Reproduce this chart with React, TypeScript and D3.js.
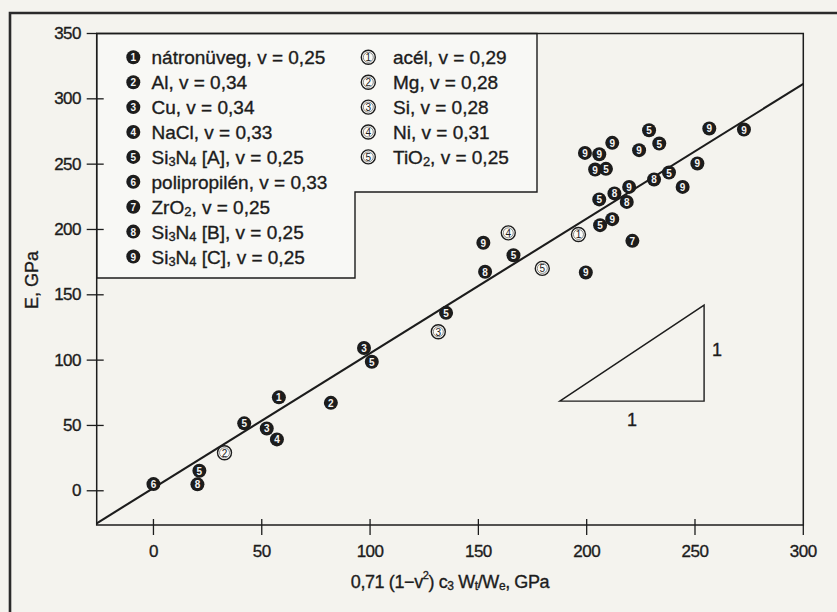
import * as d3 from 'd3';

// legend entries (filled markers 1-9, open markers 1-5)
const filledNames = ['nátronüveg', 'Al', 'Cu', 'NaCl', 'Si_3N_4 [A]', 'polipropilén', 'ZrO_2', 'Si_3N_4 [B]', 'Si_3N_4 [C]'];
const filledNu = ['0,25', '0,34', '0,34', '0,33', '0,25', '0,33', '0,25', '0,25', '0,25'];
const openNames = ['acél', 'Mg', 'Si', 'Ni', 'TiO_2'];
const openNu = ['0,29', '0,28', '0,28', '0,31', '0,25'];

// filled points: series number, x, y
const filledSeries = [1, 2, 3, 3, 4, 5, 5, 5, 5, 5, 5, 5, 5, 5, 5, 5, 6, 7, 8, 8, 8, 8, 8, 9, 9, 9, 9, 9, 9, 9, 9, 9, 9, 9, 9, 9];
const filledX = [57.9, 81.9, 52.3, 97.2, 57, 21.2, 41.9, 100.8, 135.1, 166.2, 206.2, 205.8, 238, 208.9, 233.5, 228.8, 0, 221.1, 20.3, 153.1, 218.5, 231.1, 212.8, 152.3, 199.6, 211.8, 219.6, 244.3, 251.1, 203.9, 199.2, 205.8, 224.2, 211.8, 256.6, 272.6];
const filledY = [71.5, 67.3, 47.7, 109.3, 39.3, 15.3, 51.6, 98.7, 136.2, 180.3, 203.3, 223, 243.6, 246.4, 265.8, 276, 5.1, 191.3, 4.9, 167.6, 221.1, 238.3, 227.6, 189.8, 167.1, 207.9, 232.6, 232.6, 250.5, 245.9, 258.6, 257.6, 260.7, 266.3, 277.3, 276.5];

// open points
const openSeries = [1, 2, 3, 4, 5];
const openX = [196.2, 32.8, 131.5, 163.8, 179.5];
const openY = [196.2, 29.1, 121.7, 197.4, 170.2];

// fitted line and slope triangle (data units)
const fitLine: [number, number][] = [[-26.2, -24.9], [300, 311.4]];
const slopeTriangle: [number, number][] = [[187.6, 68.6], [254.2, 68.6], [254.2, 142.1]];

const xTicks = [0, 50, 100, 150, 200, 250, 300];
const yTicks = [0, 50, 100, 150, 200, 250, 300, 350];

const FONT = '"Liberation Sans", Arial, Helvetica, sans-serif';
const INK = '#1c1c1c';
const TXT = { fontFamily: FONT, fill: INK, stroke: INK, strokeWidth: 0.35 };

function Label({ text, x, y, size }: { text: string; x: number; y: number; size: number }) {
  // "_3" -> subscript 3
  const parts = text.split(/(_\d)/).filter((p) => p.length);
  return (
    <text x={x} y={y} fontSize={size} dominantBaseline="central" {...TXT}>
      {parts.map((p, i) =>
        p.startsWith('_') ? (
          <tspan key={i} fontSize={size * 0.68} dy={size * 0.22}>{p.slice(1)}</tspan>
        ) : (
          <tspan key={i} dy={i > 0 && parts[i - 1].startsWith('_') ? -size * 0.22 : 0}>{p}</tspan>
        )
      )}
    </text>
  );
}

function Filled({ x, y, n, r = 7 }: { x: number; y: number; n: number; r?: number }) {
  return (
    <g>
      <circle cx={x} cy={y} r={r} fill={INK} />
      <text x={x} y={y + 0.5} textAnchor="middle" dominantBaseline="central" fontSize={10} fontWeight="bold" fontFamily={FONT} fill="#f4f4f4">{n}</text>
    </g>
  );
}

function Open({ x, y, n, r = 7 }: { x: number; y: number; n: number; r?: number }) {
  return (
    <g>
      <circle cx={x} cy={y} r={r} fill="#fbfbf8" stroke={INK} strokeWidth={1.4} />
      <circle cx={x} cy={y} r={r - 2} fill="none" stroke={INK} strokeWidth={0.5} />
      <text x={x} y={y + 0.5} textAnchor="middle" dominantBaseline="central" fontSize={10} fontFamily={FONT} fill={INK}>{n}</text>
    </g>
  );
}

export default function App() {
  const W = 837;
  const H = 612;
  const x = d3.scaleLinear().domain([-26.2, 300]).range([96.7, 803.3]);
  const y = d3.scaleLinear().domain([-26.2, 350]).range([525, 33.5]);
  const left = x(-26.2);
  const right = x(300);
  const top = y(350);
  const bottom = y(-26.2);

  const line = d3.line<[number, number]>().x((d) => x(d[0])).y((d) => y(d[1]));
  const tri = d3.line<[number, number]>().x((d) => x(d[0])).y((d) => y(d[1])).curve(d3.curveLinearClosed);

  // stepped legend box
  const legendPath = [
    [left, top], [537, top], [537, 192], [355, 192], [355, 278], [left, 278],
  ];
  const rowY = (i: number) => 57.3 + i * 24.9;

  return (
    <svg width={W} height={H} style={{ position: 'absolute', left: 0, top: 0, background: '#f4f3ee' }}>
      <rect x={0} y={0} width={W} height={H} fill="#f4f3ee" />
      {/* page border */}
      <path d={`M10,${H} V13 H${W}`} fill="none" stroke="#2a2a2a" strokeWidth={2.6} />

      {/* legend box */}
      <polygon points={legendPath.map((p) => p.join(',')).join(' ')} fill="#f8f8f5" stroke={INK} strokeWidth={1.4} />

      {/* frame */}
      <path d={`M${left},${top} H${right} V${bottom} H${left} Z`} fill="none" stroke={INK} strokeWidth={1.5} />

      {/* y ticks */}
      {yTicks.map((t) => (
        <g key={t}>
          <line x1={left - 10} x2={t === 350 ? left : left + 7} y1={y(t)} y2={y(t)} stroke={INK} strokeWidth={1.3} />
          <text x={81} y={y(t)} textAnchor="end" dominantBaseline="central" fontSize={17} letterSpacing={-0.5} {...TXT}>{t}</text>
        </g>
      ))}
      {/* x ticks */}
      {xTicks.map((t) => (
        <g key={t}>
          <line x1={x(t)} x2={x(t)} y1={t === 300 ? bottom : bottom - 6} y2={bottom + 10} stroke={INK} strokeWidth={1.3} />
          <text x={x(t)} y={551} textAnchor="middle" dominantBaseline="central" fontSize={17} letterSpacing={-0.5} {...TXT}>{t}</text>
        </g>
      ))}

      {/* axis titles */}
      <text x={450} y={582} textAnchor="middle" dominantBaseline="central" fontSize={18} letterSpacing={-0.4} {...TXT}>
        0,71 (1−v<tspan fontSize={11} dy={-7}>2</tspan><tspan dy={7}>) c</tspan><tspan fontSize={12} dy={4}>3</tspan><tspan dy={-4}> W</tspan><tspan fontSize={12} dy={4}>t</tspan><tspan dy={-4}>/W</tspan><tspan fontSize={12} dy={4}>e</tspan><tspan dy={-4}>, GPa</tspan>
      </text>
      <text transform={`translate(32,280) rotate(-90)`} textAnchor="middle" dominantBaseline="central" fontSize={18} {...TXT}>E, GPa</text>

      {/* legend entries */}
      {filledNames.map((n, i) => (
        <g key={n + i}>
          <Filled x={133.3} y={rowY(i)} n={i + 1} />
          <Label text={`${n}, v = ${filledNu[i]}`} x={151.5} y={rowY(i)} size={19} />
        </g>
      ))}
      {openNames.map((n, i) => (
        <g key={n}>
          <Open x={368.3} y={rowY(i)} n={i + 1} />
          <Label text={`${n}, v = ${openNu[i]}`} x={393} y={rowY(i)} size={19} />
        </g>
      ))}

      {/* fit line */}
      <path d={line(fitLine) ?? ''} fill="none" stroke={INK} strokeWidth={2.1} />

      {/* slope triangle */}
      <path d={tri(slopeTriangle) ?? ''} fill="none" stroke={INK} strokeWidth={1.4} />
      <text x={x((slopeTriangle[0][0] + slopeTriangle[1][0]) / 2)} y={420} textAnchor="middle" dominantBaseline="central" fontSize={18} {...TXT}>1</text>
      <text x={717} y={350} textAnchor="middle" dominantBaseline="central" fontSize={18} {...TXT}>1</text>

      {/* data points */}
      {filledSeries.map((s, i) => (
        <Filled key={'f' + i} x={x(filledX[i])} y={y(filledY[i])} n={s} />
      ))}
      {openSeries.map((s, i) => (
        <Open key={'o' + i} x={x(openX[i])} y={y(openY[i])} n={s} />
      ))}
    </svg>
  );
}
